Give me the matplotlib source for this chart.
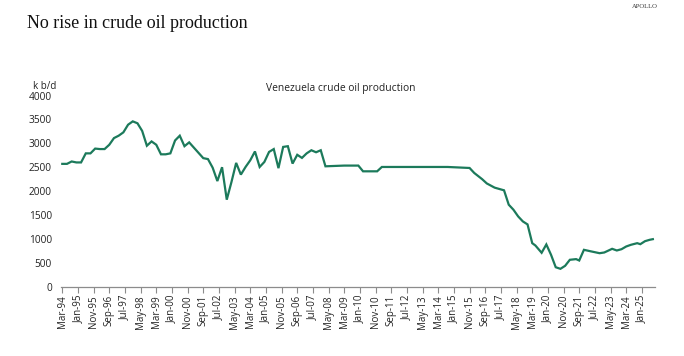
import numpy as np
import matplotlib
matplotlib.use("Agg")
import matplotlib.pyplot as plt

# ---- data (k b/d) ----
dates = [
    "1994-03", "1994-06", "1994-09", "1994-12", "1995-03", "1995-06", "1995-09", "1995-12",
    "1996-03", "1996-06", "1996-09", "1996-12", "1997-03", "1997-06", "1997-09", "1997-12",
    "1998-03", "1998-06", "1998-09", "1998-12", "1999-03", "1999-06", "1999-09", "1999-12",
    "2000-03", "2000-06", "2000-09", "2000-12", "2001-09", "2001-12", "2002-03", "2002-06",
    "2002-09", "2002-12", "2003-03", "2003-06", "2003-09", "2003-12", "2004-03", "2004-06",
    "2004-09", "2004-12", "2005-03", "2005-06", "2005-09", "2005-12", "2006-03", "2006-06",
    "2006-09", "2006-12", "2007-03", "2007-06", "2007-09", "2007-12", "2008-03", "2009-03",
    "2009-12", "2010-03", "2010-12", "2011-03", "2014-09", "2015-11", "2016-02", "2016-07",
    "2016-10", "2017-03", "2017-09", "2017-12", "2018-03", "2018-06", "2018-09", "2018-12",
    "2019-03", "2019-05", "2019-09", "2019-12", "2020-03", "2020-06", "2020-09", "2020-12",
    "2021-03", "2021-07", "2021-09", "2021-12", "2022-04", "2022-10", "2023-01", "2023-06",
    "2023-09", "2023-12", "2024-03", "2024-06", "2024-10", "2024-12", "2025-03", "2025-06",
    "2025-08",
]
production = [
    2570, 2570, 2620, 2600, 2600, 2790, 2790, 2890,
    2880, 2880, 2970, 3110, 3160, 3230, 3390, 3460,
    3420, 3260, 2950, 3040, 2970, 2770, 2770, 2790,
    3060, 3160, 2940, 3020, 2690, 2670, 2490, 2210,
    2500, 1820, 2190, 2590, 2345, 2505, 2645, 2830,
    2505, 2610, 2820, 2880, 2480, 2925, 2940, 2576,
    2760, 2695, 2790, 2855, 2813, 2855, 2519, 2534,
    2534, 2414, 2414, 2505, 2505, 2484, 2379, 2250,
    2160, 2072, 2016, 1715, 1610, 1470, 1365, 1302,
    909, 861, 708, 882, 666, 405, 372, 435,
    561, 575, 546, 770, 741, 699, 714, 791,
    756, 783, 840, 875, 909, 888, 951, 980,
    993,
]
tick_labels = [
    "Mar-94", "Jan-95", "Nov-95", "Sep-96", "Jul-97", "May-98", "Mar-99", "Jan-00",
    "Nov-00", "Sep-01", "Jul-02", "May-03", "Mar-04", "Jan-05", "Nov-05", "Sep-06",
    "Jul-07", "May-08", "Mar-09", "Jan-10", "Nov-10", "Sep-11", "Jul-12", "May-13",
    "Mar-14", "Jan-15", "Nov-15", "Sep-16", "Jul-17", "May-18", "Mar-19", "Jan-20",
    "Nov-20", "Sep-21", "Jul-22", "May-23", "Mar-24", "Jan-25",
]

# month index counted from Mar-94 (monthly category axis)
def month_idx(s):
    y, m = s.split("-")
    return (int(y) - 1994) * 12 + (int(m) - 3)

x = np.array([month_idx(d) for d in dates])
y = np.array(production)
ticks = np.arange(len(tick_labels)) * 10

plt.rcParams["font.family"] = ["Open Sans", "DejaVu Sans"]
fig = plt.figure(figsize=(6.84, 3.56), dpi=100)
ax = fig.add_axes([0.0899, 0.195, 0.868, 0.5365])

ax.plot(x, y, color="#1c7a5b", lw=1.6, solid_joinstyle="miter")

ax.set_xlim(-0.5, 378.5)
ax.set_ylim(0, 4000)
ax.set_yticks(np.arange(0, 4001, 500))
ax.set_xticks(ticks)
ax.set_xticklabels(tick_labels, rotation=90, fontsize=7)
ax.tick_params(axis="y", length=0, pad=7, labelsize=7.3, colors="#222222")
ax.tick_params(axis="x", length=4, width=0.8, color="#8c8c8c", pad=2, labelcolor="#222222")

for s in ("top", "right", "left"):
    ax.spines[s].set_visible(False)
ax.spines["bottom"].set_color("#8c8c8c")
ax.spines["bottom"].set_linewidth(0.9)

fig.text(0.4975, 0.752, "Venezuela crude oil production", ha="center", va="center",
         fontsize=7.4, color="#222222")
fig.text(0.048, 0.758, "k b/d", ha="left", va="center", fontsize=7, color="#222222")

fig.text(0.0395, 0.935, "No rise in crude oil production", ha="left", va="center",
         fontsize=13, family=["Liberation Serif", "DejaVu Serif"], color="#111111")
fig.text(0.961, 0.983, "APOLLO", ha="right", va="center", fontsize=4.8,
         family=["Liberation Serif", "DejaVu Serif"], color="#333333")

fig.savefig("out.png", dpi=100)
